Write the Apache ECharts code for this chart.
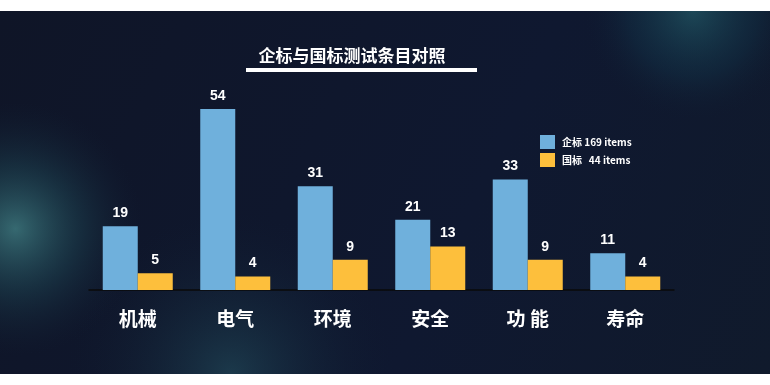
<!DOCTYPE html>
<html>
<head>
<meta charset="utf-8">
<script src="https://cdn.jsdelivr.net/npm/echarts@6/dist/echarts.min.js"></script>
<style>
html,body{margin:0;padding:0;background:#fff;}
#c{width:770px;height:385px;}
</style>
</head>
<body>
<div id="c"></div>
<script>
var categories = ['机械', '电气', '环境', '安全', '功 能', '寿命'];
var seriesNames = ['企标', '国标'];
var legendTexts = ['企标 169 items', '国标   44 items'];
var qiBiao = [19, 54, 31, 21, 33, 11];
var guoBiao = [5, 4, 9, 13, 9, 4];
var titleText = '企标与国标测试条目对照';

var chart = echarts.init(document.getElementById('c'));
var cjk = '"Noto Sans CJK SC","Liberation Sans Narrow","Liberation Sans",sans-serif';
var num = '"Liberation Sans Narrow","Liberation Sans","Noto Sans CJK SC",sans-serif';

var option = {
  backgroundColor: '#ffffff',
  animation: false,
  graphic: [
    {type: 'rect', z: -10, silent: true, shape: {x: 0, y: 11, width: 770, height: 363},
     style: {fill: new echarts.graphic.LinearGradient(0, 0, 1, 1, [
       {offset: 0, color: '#0f1527'}, {offset: 0.6, color: '#0f1830'}, {offset: 1, color: '#101a2c'}])}},
    {type: 'rect', z: -9, silent: true, shape: {x: 0, y: 11, width: 770, height: 363},
     style: {fill: new echarts.graphic.RadialGradient(0.02, 0.6, 0.35, [
       {offset: 0, color: 'rgba(80,160,160,0.6)'}, {offset: 0.5, color: 'rgba(40,100,110,0.3)'}, {offset: 1, color: 'rgba(20,40,60,0)'}])}},
    {type: 'rect', z: -9, silent: true, shape: {x: 0, y: 11, width: 770, height: 363},
     style: {fill: new echarts.graphic.RadialGradient(0.9, 0.0, 0.3, [
       {offset: 0, color: 'rgba(40,110,120,0.55)'}, {offset: 0.6, color: 'rgba(20,70,90,0.25)'}, {offset: 1, color: 'rgba(15,30,50,0)'}])}},
    {type: 'rect', z: -9, silent: true, shape: {x: 0, y: 11, width: 770, height: 363},
     style: {fill: new echarts.graphic.RadialGradient(0.3, 1.0, 0.45, [
       {offset: 0, color: 'rgba(50,120,130,0.35)'}, {offset: 1, color: 'rgba(15,30,50,0)'}])}},
    {type: 'text', silent: true, z: 10, x: 352, y: 56,
     style: {text: titleText, textAlign: 'center', textVerticalAlign: 'middle',
       fill: '#ffffff', font: 'bold 17px ' + cjk}},
    {type: 'rect', silent: true, z: 10, shape: {x: 246, y: 68, width: 231, height: 4}, style: {fill: '#ffffff'}}
  ],
  legend: {
    orient: 'vertical', left: 540, top: 135, padding: 0, itemWidth: 15, itemHeight: 14, itemGap: 4,
    icon: 'rect', data: seriesNames,
    formatter: function (n) { return legendTexts[seriesNames.indexOf(n)]; },
    textStyle: {color: '#ffffff', fontSize: 10, fontWeight: 'bold', fontFamily: cjk, padding: [0, 0, 0, 2]}
  },
  grid: {left: 89, right: 96, top: 89, bottom: 95},
  xAxis: {
    type: 'category', data: categories,
    axisLine: {lineStyle: {color: '#0a0a0a', width: 1.5}},
    axisTick: {show: false},
    axisLabel: {color: '#ffffff', fontSize: 19, fontWeight: 'bold', fontFamily: cjk, margin: 19}
  },
  yAxis: {type: 'value', min: 0, max: 60, show: false, splitLine: {show: false}},
  series: [
    {name: seriesNames[0], type: 'bar', data: qiBiao, barWidth: 35, barGap: '0%',
     itemStyle: {color: '#6fb0dc'},
     label: {show: true, position: 'top', distance: 6, color: '#ffffff', fontSize: 14, fontWeight: 'bold', fontFamily: num}},
    {name: seriesNames[1], type: 'bar', data: guoBiao, barWidth: 35,
     itemStyle: {color: '#fdbf3c'},
     label: {show: true, position: 'top', distance: 6, color: '#ffffff', fontSize: 14, fontWeight: 'bold', fontFamily: num}}
  ]
};
chart.setOption(option);
</script>
</body>
</html>
